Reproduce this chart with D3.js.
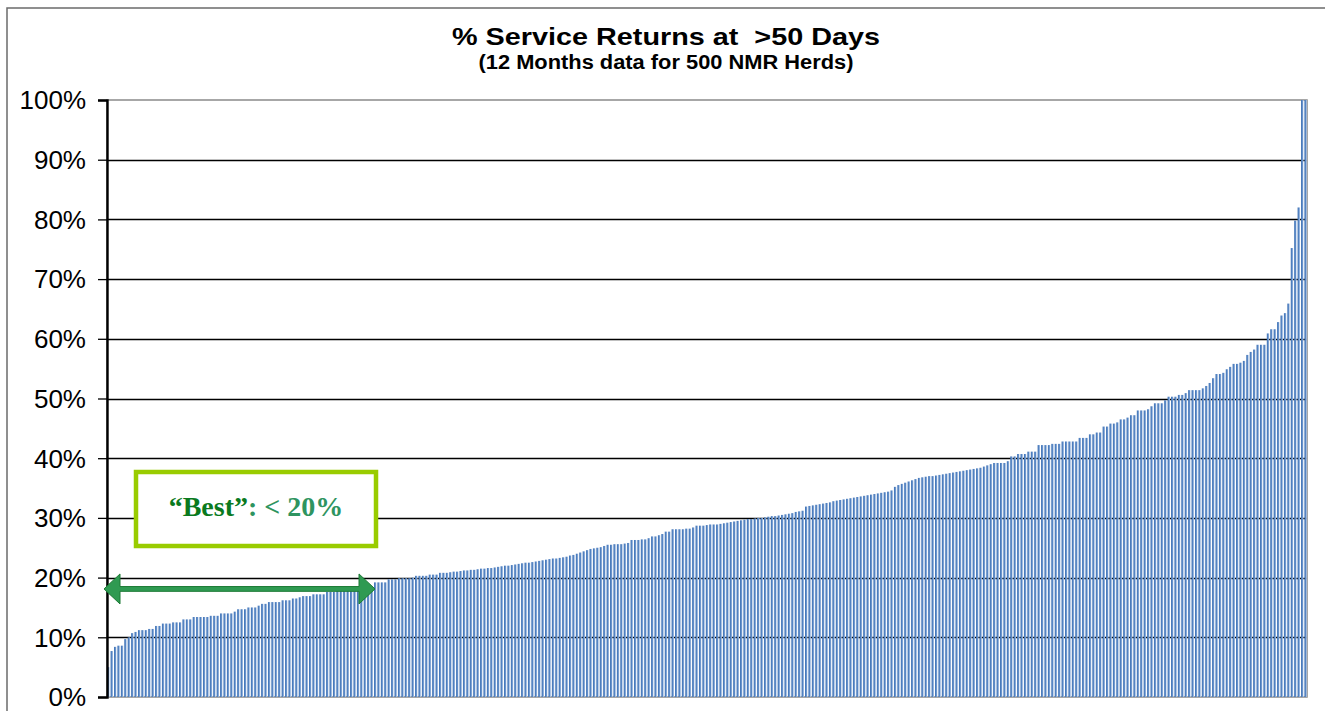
<!DOCTYPE html>
<html>
<head>
<meta charset="utf-8">
<script src="https://cdn.jsdelivr.net/npm/d3@7"></script>
<style>
  html, body { margin: 0; padding: 0; background: #fff; }
  svg { display: block; }
</style>
</head>
<body>
<svg id="chart" width="1325" height="711"></svg>
<script>
// ---- data (% per herd, sorted ascending) ----
const titleLines = ["% Service Returns at  >50 Days", "(12 Months data for 500 NMR Herds)"];
const yTickValues = [0, 10, 20, 30, 40, 50, 60, 70, 80, 90, 100];
const yTickLabels = ["0%", "10%", "20%", "30%", "40%", "50%", "60%", "70%", "80%", "90%", "100%"];
const bestLabelQuote = "\u201CBest\u201D";
const bestLabelRest = ": < 20%";
const herdValues = [
  5.0, 7.7, 8.4, 8.6, 8.6, 9.7, 10.0, 10.7, 10.9, 11.2,
  11.2, 11.2, 11.4, 11.4, 11.9, 11.9, 12.3, 12.3, 12.3, 12.5,
  12.5, 12.5, 13.0, 13.0, 13.0, 13.4, 13.4, 13.4, 13.4, 13.4,
  13.6, 13.6, 13.6, 14.0, 14.0, 14.0, 14.0, 14.3, 14.7, 14.7,
  14.7, 15.0, 15.0, 15.0, 15.3, 15.6, 15.6, 15.9, 15.9, 15.9,
  15.9, 16.2, 16.2, 16.2, 16.5, 16.5, 16.7, 16.9, 16.9, 16.9,
  17.2, 17.2, 17.2, 17.2, 17.6, 17.6, 17.6, 18.0, 18.0, 18.0,
  18.0, 18.0, 18.0, 18.0, 18.3, 18.6, 18.6, 18.6, 19.2, 19.2,
  19.2, 19.2, 19.7, 19.7, 19.7, 19.9, 19.9, 19.9, 19.9, 20.0,
  20.3, 20.3, 20.3, 20.3, 20.5, 20.5, 20.5, 20.8, 20.8, 20.8,
  20.9, 21.0, 21.0, 21.1, 21.2, 21.2, 21.3, 21.3, 21.4, 21.5,
  21.5, 21.6, 21.6, 21.7, 21.8, 21.9, 22.0, 22.0, 22.1, 22.2,
  22.3, 22.4, 22.5, 22.5, 22.6, 22.7, 22.8, 22.9, 23.0, 23.1,
  23.2, 23.2, 23.3, 23.4, 23.5, 23.7, 23.8, 24.0, 24.2, 24.4,
  24.6, 24.8, 24.9, 25.0, 25.1, 25.3, 25.5, 25.5, 25.6, 25.6,
  25.6, 25.7, 25.8, 26.3, 26.3, 26.3, 26.4, 26.4, 26.6, 26.9,
  26.9, 27.1, 27.3, 27.7, 27.7, 28.1, 28.1, 28.1, 28.1, 28.2,
  28.2, 28.4, 28.7, 28.7, 28.7, 28.8, 28.9, 28.9, 28.9, 29.0,
  29.1, 29.2, 29.3, 29.4, 29.5, 29.6, 29.7, 29.8, 29.8, 29.9,
  30.0, 30.0, 30.1, 30.2, 30.3, 30.3, 30.4, 30.5, 30.6, 30.7,
  30.8, 31.0, 31.1, 31.2, 31.9, 32.0, 32.1, 32.2, 32.3, 32.4,
  32.5, 32.6, 32.8, 32.9, 33.0, 33.1, 33.2, 33.3, 33.4, 33.5,
  33.6, 33.7, 33.8, 33.9, 34.0, 34.1, 34.2, 34.3, 34.4, 34.6,
  35.2, 35.5, 35.7, 35.9, 36.1, 36.3, 36.5, 36.7, 36.8, 36.9,
  37.0, 37.0, 37.1, 37.2, 37.3, 37.4, 37.5, 37.6, 37.7, 37.8,
  37.9, 38.0, 38.1, 38.2, 38.3, 38.4, 38.6, 38.8, 39.0, 39.2,
  39.2, 39.2, 39.2, 39.5, 40.3, 40.3, 40.7, 40.7, 40.7, 41.1,
  41.1, 41.1, 42.2, 42.2, 42.2, 42.2, 42.4, 42.4, 42.4, 42.8,
  42.8, 42.8, 42.8, 42.8, 43.4, 43.4, 43.4, 44.0, 44.0, 44.3,
  44.3, 45.3, 45.3, 45.8, 45.8, 46.0, 46.5, 46.5, 46.8, 47.2,
  47.2, 48.0, 48.0, 48.0, 48.2, 48.7, 49.2, 49.2, 49.2, 49.7,
  50.3, 50.3, 50.3, 50.6, 50.6, 50.9, 51.4, 51.4, 51.4, 51.4,
  51.7, 52.1, 52.6, 53.4, 54.1, 54.1, 54.3, 54.9, 55.3, 55.8,
  55.8, 56.0, 56.3, 57.3, 57.8, 58.2, 59.0, 59.0, 59.0, 60.9,
  61.6, 61.6, 62.8, 63.9, 64.3, 65.9, 75.2, 79.8, 82.0, 100.0,
  100.0
];

// ---- layout ----
const W = 1325, H = 711;
const plot = { left: 107, right: 1307, top: 100, bottom: 697 };

const svg = d3.select("#chart");

// gradient for the bars (Excel-like two-tone)
const defs = svg.append("defs");
const grad = defs.append("linearGradient")
  .attr("id", "barGrad").attr("x1", "0").attr("y1", "0").attr("x2", "1").attr("y2", "0");
grad.append("stop").attr("offset", "0").attr("stop-color", "#3C70B3");
grad.append("stop").attr("offset", "0.55").attr("stop-color", "#5A88C6");
grad.append("stop").attr("offset", "1").attr("stop-color", "#BFD2EC");

// outer chart frame
svg.append("rect")
  .attr("x", 7).attr("y", 8).attr("width", W + 20).attr("height", H + 20)
  .attr("fill", "#fff").attr("stroke", "#6b6b6b").attr("stroke-width", 1.5);

// scales
const x = d3.scaleBand()
  .domain(d3.range(herdValues.length))
  .range([plot.left, plot.right])
  .paddingInner(0.3)
  .paddingOuter(0.05);
const y = d3.scaleLinear().domain([0, 100]).range([plot.bottom, plot.top]);

// gridlines
svg.append("g")
  .selectAll("line")
  .data(yTickValues.filter(v => v > 0 && v < 100))
  .join("line")
  .attr("x1", plot.left).attr("x2", plot.right)
  .attr("y1", d => Math.round(y(d)) + 0.5).attr("y2", d => Math.round(y(d)) + 0.5)
  .attr("stroke", "#000").attr("stroke-width", 1.3);

// plot area border (grey)
svg.append("rect")
  .attr("x", plot.left).attr("y", plot.top)
  .attr("width", plot.right - plot.left).attr("height", plot.bottom - plot.top)
  .attr("fill", "none").attr("stroke", "#8a8a8a").attr("stroke-width", 1.5);

// bars
svg.append("g")
  .selectAll("rect")
  .data(herdValues)
  .join("rect")
  .attr("x", (d, i) => x(i))
  .attr("width", x.bandwidth())
  .attr("y", d => y(d))
  .attr("height", d => y(0) - y(d))
  .attr("fill", "url(#barGrad)");

// y axis
const yAxis = d3.axisLeft(y)
  .tickValues(yTickValues)
  .tickFormat((d, i) => yTickLabels[i])
  .tickSize(9)
  .tickPadding(12);
const gy = svg.append("g")
  .attr("transform", `translate(${plot.left},0)`)
  .call(yAxis);
gy.select(".domain").attr("stroke", "#000").attr("stroke-width", 2.4);
gy.selectAll(".tick line").attr("stroke", "#000").attr("stroke-width", 1.3);
gy.selectAll(".tick text")
  .attr("font-family", "'Liberation Sans', Arial, sans-serif")
  .attr("font-size", 26)
  .attr("dy", "0.34em")
  .attr("fill", "#000");

// title
svg.append("text")
  .attr("x", 666).attr("y", 45)
  .attr("text-anchor", "middle")
  .style("white-space", "pre")
  .attr("font-family", "'Liberation Sans', Arial, sans-serif")
  .attr("font-weight", "bold").attr("font-size", 24)
  .attr("textLength", 428).attr("lengthAdjust", "spacingAndGlyphs")
  .attr("fill", "#000")
  .text(titleLines[0]);
svg.append("text")
  .attr("x", 666).attr("y", 69)
  .attr("text-anchor", "middle")
  .attr("font-family", "'Liberation Sans', Arial, sans-serif")
  .attr("font-weight", "bold").attr("font-size", 20)
  .attr("textLength", 375).attr("lengthAdjust", "spacingAndGlyphs")
  .attr("fill", "#000")
  .text(titleLines[1]);

// "Best" arrow (annotation drawn over the low-value herds)
const arrowL = 104, arrowR = 375;
const ay = y(18.1);
const headW = 16, headH = 15, shaft = 2.4;
const arrowPath = [
  [arrowL, ay],
  [arrowL + headW, ay - headH],
  [arrowL + headW, ay - shaft],
  [arrowR - headW, ay - shaft],
  [arrowR - headW, ay - headH],
  [arrowR, ay],
  [arrowR - headW, ay + headH],
  [arrowR - headW, ay + shaft],
  [arrowL + headW, ay + shaft],
  [arrowL + headW, ay + headH]
];
svg.append("path")
  .attr("d", d3.line()(arrowPath) + "Z")
  .attr("fill", "#2F9A52").attr("stroke", "#1C7A35").attr("stroke-width", 1);

// "Best" box
const box = { x: 136, y: 472, w: 240, h: 74 };
svg.append("rect")
  .attr("x", box.x).attr("y", box.y).attr("width", box.w).attr("height", box.h)
  .attr("fill", "#fff").attr("stroke", "#99CC00").attr("stroke-width", 4.5);
const bt = svg.append("text")
  .attr("x", box.x + box.w / 2).attr("y", box.y + 44)
  .attr("text-anchor", "middle")
  .attr("font-family", "'Liberation Serif', 'Times New Roman', serif")
  .attr("font-weight", "bold").attr("font-size", 28);
bt.append("tspan").attr("fill", "#0A7A1E").text(bestLabelQuote);
bt.append("tspan").attr("fill", "#2E9460").text(bestLabelRest);
</script>
</body>
</html>
